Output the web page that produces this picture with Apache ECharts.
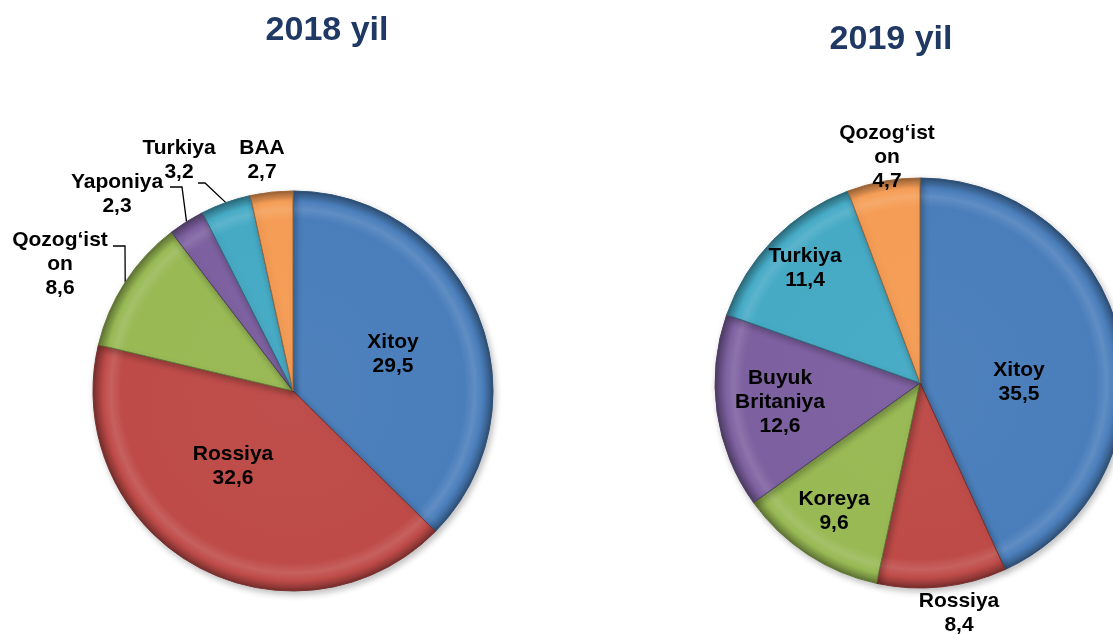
<!DOCTYPE html>
<html><head><meta charset="utf-8">
<script src="https://cdn.jsdelivr.net/npm/echarts@6/dist/echarts.min.js"></script>
<style>html,body{margin:0;padding:0;background:#fff}#c{width:1113px;height:635px}</style>
</head><body><div id="c"></div>
<script>
// ---- data ----
const titles = ['2018 yil', '2019 yil'];
const categories2018 = ['Xitoy', 'Rossiya', 'Qozog‘ist\non', 'Yaponiya', 'Turkiya', 'BAA'];
const values2018 = [29.5, 32.6, 8.6, 2.3, 3.2, 2.7];
const categories2019 = ['Xitoy', 'Rossiya', 'Koreya', 'Buyuk\nBritaniya', 'Turkiya', 'Qozog‘ist\non'];
const values2019 = [35.5, 8.4, 9.6, 12.6, 11.4, 4.7];

// ---- style / layout ----
const palette = ['#4A7EBB', '#BE4B48', '#98B954', '#7D60A0', '#46AAC5', '#F59D56'];
const pies = [
  { cx: 293, cy: 391, r: 200 },
  { cx: 920, cy: 383, r: 205 }
];
const titlePos = [[327, 31], [891, 40]];
// label centres and leader-line elbows (annotation placement)
const labelPlace = [
  [
    { x: 393, y: 354 },
    { x: 233, y: 466 },
    { x: 60, y: 264, outside: true, line: [[125, 246], [113, 246]] },
    { x: 117, y: 194, outside: true, line: [[182, 187], [170, 187]] },
    { x: 179, y: 160, outside: true, line: [[205, 183], [198, 183]] },
    { x: 262, y: 160, outside: true }
  ],
  [
    { x: 1019, y: 382 },
    { x: 959, y: 613, outside: true },
    { x: 834, y: 511 },
    { x: 780, y: 402 },
    { x: 805, y: 268 },
    { x: 887, y: 157, outside: true }
  ]
];

function shade(hex, f) {
  const n = parseInt(hex.slice(1), 16);
  let r = (n >> 16) & 255, g = (n >> 8) & 255, b = n & 255;
  if (f >= 0) { r += (255 - r) * f; g += (255 - g) * f; b += (255 - b) * f; }
  else { r *= (1 + f); g *= (1 + f); b *= (1 + f); }
  return 'rgb(' + Math.round(r) + ',' + Math.round(g) + ',' + Math.round(b) + ')';
}
function fill(base, p) {
  return {
    type: 'radial', x: p.cx, y: p.cy, r: p.r, global: true,
    colorStops: [
      { offset: 0, color: shade(base, 0.02) },
      { offset: 0.86, color: base },
      { offset: 0.91, color: shade(base, 0.12) },
      { offset: 0.95, color: base },
      { offset: 0.985, color: shade(base, -0.25) },
      { offset: 1, color: shade(base, -0.4) }
    ]
  };
}
function fmt(v) { return String(v).replace('.', ','); }

function edgePoint(values, i, p) {
  const total = values.reduce((a, b) => a + b, 0);
  let before = 0;
  for (let k = 0; k < i; k++) before += values[k];
  const mid = (before + values[i] / 2) / total * 2 * Math.PI;
  const ang = Math.PI / 2 - mid;
  return [p.cx + p.r * Math.cos(ang), p.cy - p.r * Math.sin(ang)];
}

function buildSeries(si, cats, vals) {
  const p = pies[si];
  return {
    type: 'pie',
    center: [p.cx, p.cy],
    radius: p.r,
    startAngle: 90,
    clockwise: true,
    avoidLabelOverlap: false,
    silent: true,
    animation: false,
    data: cats.map((c, i) => {
      const L = labelPlace[si][i];
      return {
        name: c,
        value: vals[i],
        itemStyle: {
          color: fill(palette[i], p),
          borderColor: shade(palette[i], -0.35),
          borderWidth: 1
        },
        label: { position: L.outside ? 'outside' : 'inside' },
        labelLine: { show: !!L.line, lineStyle: { color: '#000', width: 1.3 } }
      };
    }),
    label: {
      show: true,
      formatter: d => d.name + '\n' + fmt(d.value),
      color: '#000',
      fontFamily: 'Liberation Sans, Arial, sans-serif',
      fontWeight: 'bold',
      fontSize: 21,
      lineHeight: 24,
      align: 'center'
    },
    labelLayout: function (params) {
      const L = labelPlace[si][params.dataIndex];
      const o = { x: L.x, y: L.y, align: 'center', verticalAlign: 'middle' };
      if (L.line) o.labelLinePoints = [edgePoint(vals, params.dataIndex, p)].concat(L.line);
      return o;
    },
    itemStyle: {
      shadowColor: 'rgba(0,0,0,0.25)',
      shadowBlur: 6,
      shadowOffsetX: 2,
      shadowOffsetY: 3
    }
  };
}

const chart = echarts.init(document.getElementById('c'), null, { renderer: 'canvas' });
chart.setOption({
  backgroundColor: '#fff',
  animation: false,
  graphic: titles.map((t, i) => ({
    type: 'text', x: titlePos[i][0], y: titlePos[i][1],
    style: {
      text: t, fill: '#1F3864',
      font: 'bold 34px "Liberation Sans", Arial, sans-serif',
      textAlign: 'center', textVerticalAlign: 'middle'
    }
  })),
  series: [
    buildSeries(0, categories2018, values2018),
    buildSeries(1, categories2019, values2019)
  ]
});
</script>
</body></html>
